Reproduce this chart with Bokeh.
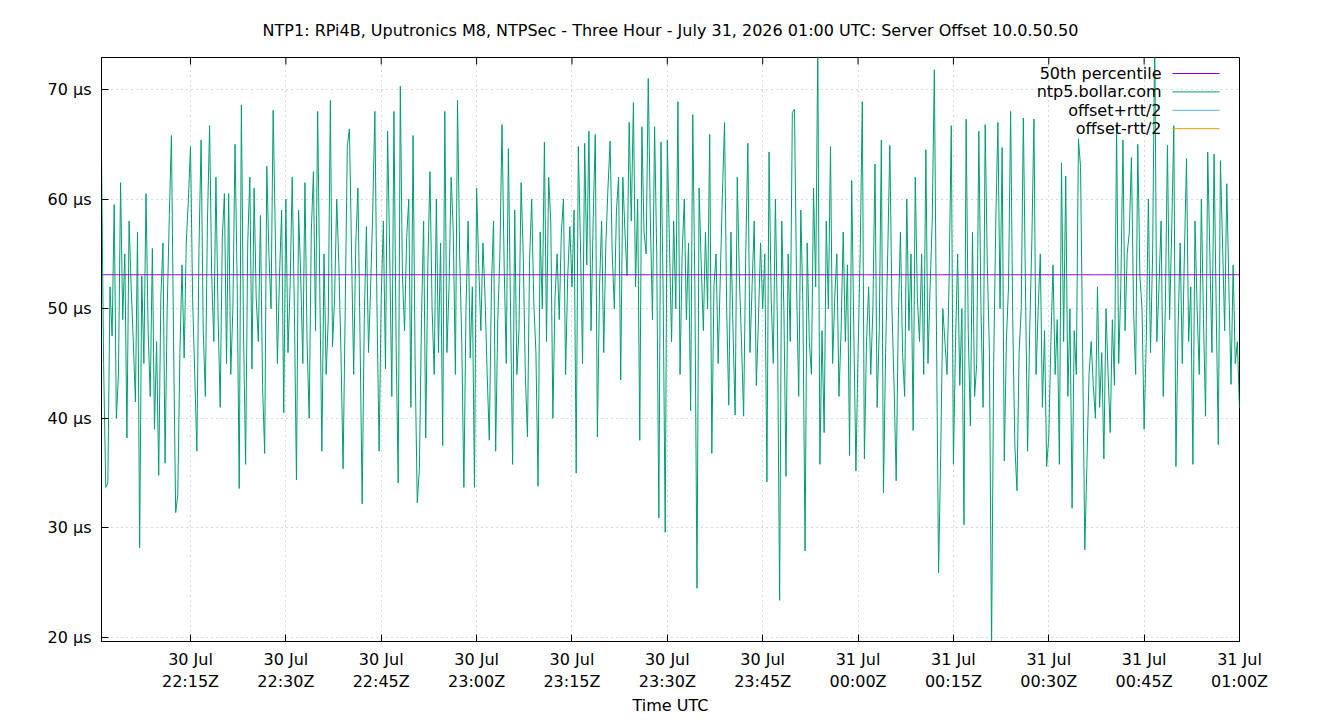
import numpy as np
from bokeh.plotting import figure
from bokeh.models import Range1d, FixedTicker, LinearAxis, Grid, Label, Arrow
from bokeh.embed import file_html
from bokeh.resources import INLINE

title_text = "NTP1: RPi4B, Uputronics M8, NTPSec - Three Hour - July 31, 2026 01:00 UTC: Server Offset 10.0.50.50"
x_label = "Time UTC"

start_time = "2026-07-30T22:01:00"
step_seconds = 20

# ntp5.bollar.com offset, microseconds
offset_us = [
    64.0, 45.0, 33.7, 34.1, 52.0, 47.5, 59.5, 40.0, 44.0, 61.5, 49.0, 55.0, 38.2, 58.0, 52.0, 47.0, 41.5, 57.0, 28.2, 53.0, 45.0, 60.5, 48.0, 42.0, 55.5, 39.0, 47.0, 34.8, 51.0, 56.0,
    35.9, 50.0, 58.5, 65.8, 47.0, 31.4, 33.0, 46.0, 54.0, 45.5, 56.0, 60.0, 64.8, 51.0, 44.0, 37.0, 55.5, 65.4, 48.0, 42.0, 58.0, 66.7, 53.0, 47.0, 62.0, 49.5, 41.0, 56.5, 60.5, 45.0,
    60.5, 44.0, 50.0, 65.0, 52.5, 33.6, 68.6, 48.0, 35.8, 56.0, 62.0, 44.5, 61.0, 51.0, 47.0, 58.5, 43.0, 36.8, 63.0, 55.0, 50.0, 68.1, 57.0, 45.0, 53.0, 59.0, 40.5, 60.0, 46.0, 52.0,
    62.0, 50.0, 34.4, 59.0, 53.0, 45.0, 61.5, 47.0, 40.0, 57.0, 62.5, 48.0, 68.0, 52.0, 37.0, 55.0, 44.0, 49.0, 69.0, 46.5, 51.0, 60.0, 54.0, 46.0, 35.4, 50.0, 64.9, 66.4, 55.0, 44.0,
    56.0, 61.0, 47.5, 32.2, 49.0, 57.5, 46.0, 52.0, 59.0, 68.0, 50.0, 37.0, 51.0, 58.0, 44.5, 66.2, 55.0, 42.0, 68.0, 47.0, 34.1, 70.3, 53.0, 48.0, 56.5, 60.0, 41.0, 65.8, 45.0, 32.3,
    35.4, 49.0, 58.0, 38.2, 54.0, 62.5, 50.0, 44.0, 60.0, 46.0, 56.0, 37.5, 68.0, 46.0, 52.0, 62.0, 57.0, 44.0, 69.0, 55.0, 47.0, 33.7, 50.0, 58.0, 45.5, 52.0, 33.7, 61.0, 54.0, 48.0,
    56.0, 51.0, 44.0, 38.0, 52.0, 58.0, 37.0, 49.0, 55.0, 66.8, 54.0, 45.0, 64.6, 50.0, 35.8, 59.0, 44.0, 48.0, 61.5, 55.0, 44.0, 38.3, 54.5, 60.0, 50.5, 46.0, 33.8, 57.0, 50.0, 65.2,
    47.0, 62.0, 58.0, 40.0, 51.0, 55.0, 49.0, 57.0, 60.0, 44.0, 53.0, 57.5, 52.0, 59.0, 35.0, 64.8, 56.0, 45.0, 65.1, 54.0, 66.2, 48.0, 58.0, 65.9, 38.3, 52.0, 58.0, 46.0, 56.0, 61.0,
    65.3, 55.0, 50.0, 59.0, 62.0, 43.5, 62.0, 57.0, 53.0, 67.0, 58.0, 68.8, 52.0, 60.0, 38.0, 66.6, 57.0, 55.0, 71.0, 58.0, 49.0, 66.6, 55.0, 30.9, 65.2, 52.0, 29.6, 65.4, 56.0, 47.0,
    58.0, 50.0, 68.9, 44.0, 55.0, 60.0, 49.0, 56.0, 40.7, 67.7, 52.0, 24.5, 61.0, 54.0, 48.0, 57.0, 50.0, 65.9, 36.8, 52.0, 55.0, 45.0, 53.0, 60.5, 67.0, 50.0, 41.2, 57.0, 48.0, 40.3,
    62.0, 53.0, 47.0, 40.2, 55.0, 65.1, 46.0, 52.0, 58.0, 43.0, 49.0, 56.0, 50.0, 55.0, 34.2, 64.3, 51.0, 45.0, 60.0, 48.0, 23.4, 58.0, 50.0, 34.7, 55.0, 47.0, 67.9, 68.2, 52.0, 42.0,
    59.0, 50.0, 27.9, 56.0, 47.0, 44.0, 61.0, 52.0, 74.0, 35.8, 48.0, 38.7, 58.0, 50.0, 64.8, 45.0, 51.0, 55.0, 42.0, 48.0, 57.0, 47.0, 54.0, 36.6, 61.7, 48.0, 35.2, 46.0, 55.0, 68.9,
    36.3, 47.0, 52.0, 44.0, 50.0, 63.2, 41.0, 48.0, 65.4, 33.2, 46.0, 55.0, 64.9, 50.0, 43.0, 34.3, 49.0, 57.0, 46.0, 42.0, 60.0, 48.0, 55.0, 38.9, 62.0, 51.0, 47.0, 55.0, 44.0, 64.5,
    45.0, 52.0, 58.0, 71.8, 48.0, 25.9, 36.7, 50.0, 47.0, 44.0, 53.0, 66.7, 35.8, 47.0, 55.0, 43.0, 50.0, 30.3, 67.3, 48.0, 39.3, 57.0, 42.0, 45.0, 66.2, 50.0, 41.0, 66.8, 54.0, 46.0,
    19.0, 45.0, 58.0, 67.0, 50.0, 64.7, 36.1, 47.0, 52.0, 68.0, 49.0, 37.5, 33.4, 46.0, 50.0, 67.4, 52.0, 37.0, 48.0, 56.0, 67.3, 44.0, 50.0, 55.0, 41.0, 48.0, 35.6, 38.3, 47.0, 54.0,
    44.0, 49.0, 35.8, 63.3, 47.0, 62.1, 42.0, 50.0, 31.8, 48.0, 44.0, 65.5, 62.9, 46.0, 28.0, 35.8, 44.0, 47.0, 43.0, 40.0, 52.0, 41.0, 46.0, 36.3, 50.0, 44.0, 38.7, 49.0, 43.0, 66.7,
    45.0, 52.0, 65.4, 48.0, 55.0, 57.0, 63.8, 50.0, 44.0, 65.0, 53.0, 50.0, 39.0, 47.0, 60.0, 46.0, 55.0, 75.0, 47.0, 52.0, 58.0, 42.0, 50.0, 64.9, 49.0, 57.0, 66.7, 35.6, 48.0, 56.0,
    45.0, 55.0, 63.7, 47.0, 52.0, 35.8, 58.0, 50.0, 44.0, 60.0, 49.0, 40.2, 64.3, 55.0, 46.0, 64.1, 50.0, 37.6, 63.5, 56.0, 48.0, 61.4, 52.0, 43.1, 54.0, 45.0, 47.0, 40.9,
]

p50_us = 53.1

series_names = ["50th percentile", "ntp5.bollar.com", "offset+rtt/2", "offset-rtt/2"]
series_colors = ["#9400d3", "#009e73", "#56b4e9", "#e69f00"]

xtick_times = [
    "2026-07-30T22:15", "2026-07-30T22:30", "2026-07-30T22:45", "2026-07-30T23:00",
    "2026-07-30T23:15", "2026-07-30T23:30", "2026-07-30T23:45", "2026-07-31T00:00",
    "2026-07-31T00:15", "2026-07-31T00:30", "2026-07-31T00:45", "2026-07-31T01:00",
]
xtick_labels = [
    "30 Jul\n22:15Z", "30 Jul\n22:30Z", "30 Jul\n22:45Z", "30 Jul\n23:00Z",
    "30 Jul\n23:15Z", "30 Jul\n23:30Z", "30 Jul\n23:45Z", "31 Jul\n00:00Z",
    "31 Jul\n00:15Z", "31 Jul\n00:30Z", "31 Jul\n00:45Z", "31 Jul\n01:00Z",
]
ytick_values = [20, 30, 40, 50, 60, 70]
ytick_labels = ["20 µs", "30 µs", "40 µs", "50 µs", "60 µs", "70 µs"]
y_lo, y_hi = 19.64, 72.92

FONT = "DejaVu Sans"
FRAME_H = 584  # plot-area height in px (720 - 57 - 79)
TICK_PX = 7

n = len(offset_us)
times = np.datetime64(start_time) + np.arange(n) * np.timedelta64(step_seconds, "s")
ms = times.astype("datetime64[ms]").astype(np.int64).astype(float)
xt = [float(np.datetime64(t).astype("datetime64[ms]").astype(np.int64)) for t in xtick_times]

p = figure(width=1340, height=720, output_backend="svg", toolbar_location=None,
           x_axis_type=None, y_axis_type=None,
           x_range=Range1d(ms[0], ms[-1]), y_range=Range1d(y_lo, y_hi),
           min_border_left=101, min_border_right=101, min_border_top=57, min_border_bottom=79)
p.background_fill_color = "white"
p.border_fill_color = "white"
p.outline_line_color = "black"
p.outline_line_width = 1

p.title.text = title_text
p.title.align = "center"
p.title.text_font = FONT
p.title.text_font_size = "16px"
p.title.text_font_style = "normal"
p.title.text_color = "black"
p.title.standoff = 36

xticker = FixedTicker(ticks=xt)
yticker = FixedTicker(ticks=ytick_values)

xaxis = LinearAxis(ticker=xticker, major_label_overrides=dict(zip(xt, xtick_labels)),
                   axis_label=x_label)
yaxis = LinearAxis(ticker=yticker, major_label_overrides=dict(zip(ytick_values, ytick_labels)))

for ax in (xaxis, yaxis):
    ax.axis_line_color = "black"
    ax.major_tick_line_color = "black"
    ax.major_tick_in = TICK_PX
    ax.major_tick_out = 0
    ax.minor_tick_line_color = None
    ax.major_label_text_font = FONT
    ax.major_label_text_font_size = "16px"
    ax.major_label_text_color = "black"
    ax.axis_label_text_font = FONT
    ax.axis_label_text_font_size = "16px"
    ax.axis_label_text_font_style = "normal"
    ax.axis_label_text_color = "black"
xaxis.major_label_standoff = 8
xaxis.axis_label_standoff = 2
yaxis.major_label_standoff = 10

p.add_layout(xaxis, "below")
p.add_layout(yaxis, "left")

for dim, tk in ((0, xticker), (1, yticker)):
    g = Grid(dimension=dim, ticker=tk, grid_line_color="#b4b4b4",
             grid_line_dash="1 4", grid_line_width=1)
    p.add_layout(g)

p.line(ms, offset_us, line_color=series_colors[1], line_width=1)
p.line(ms, [p50_us] * n, line_color=series_colors[0], line_width=1)

# mirrored x ticks on the top border (gnuplot style)
tick_len = (y_hi - y_lo) * TICK_PX / FRAME_H
p.segment(x0=xt, y0=[y_hi] * len(xt), x1=xt, y1=[y_hi - tick_len] * len(xt),
          line_color="black", line_width=1)

# gnuplot-style key: label on the left, sample line on the right (screen units, frame relative)
for i, (name, col) in enumerate(zip(series_names, series_colors)):
    yy = 568 - 18.4 * i
    p.add_layout(Label(x=1060, y=yy, x_units="screen", y_units="screen", text=name,
                       text_align="right", text_baseline="middle", text_font=FONT,
                       text_font_size="16px", text_color="black"))
    p.add_layout(Arrow(end=None, start=None, x_start=1071, y_start=yy, x_end=1118, y_end=yy,
                       start_units="screen", end_units="screen", line_color=col, line_width=1))

open("out.html", "w").write(file_html(p, INLINE))
